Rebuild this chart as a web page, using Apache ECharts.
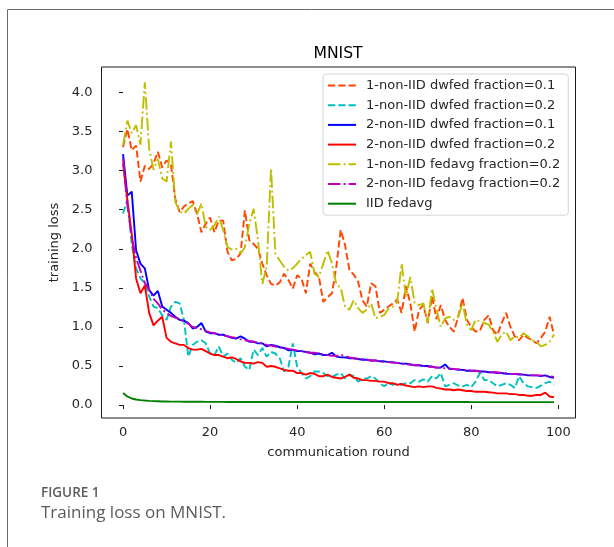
<!DOCTYPE html>
<html>
<head>
<meta charset="utf-8">
<script src="https://cdn.jsdelivr.net/npm/echarts@6/dist/echarts.min.js"></script>
<style>
html,body{margin:0;padding:0;background:#fff;}
#chart{width:614px;height:547px;}
</style>
</head>
<body>
<div id="chart"></div>
<script>
const rounds = [0,1,2,3,4,5,6,7,8,9,10,11,12,13,14,15,16,17,18,19,20,21,22,23,24,25,26,27,28,29,30,31,32,33,34,35,36,37,38,39,40,41,42,43,44,45,46,47,48,49,50,51,52,53,54,55,56,57,58,59,60,61,62,63,64,65,66,67,68,69,70,71,72,73,74,75,76,77,78,79,80,81,82,83,84,85,86,87,88,89,90,91,92,93,94,95,96,97,98,99];

const seriesNames = [
  '1-non-IID dwfed fraction=0.1',
  '1-non-IID dwfed fraction=0.2',
  '2-non-IID dwfed fraction=0.1',
  '2-non-IID dwfed fraction=0.2',
  '1-non-IID fedavg fraction=0.2',
  '2-non-IID fedavg fraction=0.2',
  'IID fedavg'
];

const nonIID1DwfedF01 = [3.30,3.53,3.26,3.32,2.86,3.06,3.02,3.09,3.24,3.04,3.13,3.08,2.64,2.47,2.54,2.58,2.61,2.45,2.21,2.32,2.40,2.21,2.36,2.36,1.96,1.85,1.87,1.94,2.49,2.11,2.06,2.00,1.81,1.66,1.55,1.53,1.57,1.68,1.60,1.49,1.66,1.62,1.43,1.81,1.70,1.64,1.32,1.38,1.43,1.77,2.24,2.05,1.73,1.67,1.58,1.34,1.26,1.56,1.52,1.18,1.22,1.26,1.30,1.35,1.18,1.52,1.30,0.94,1.22,1.28,1.05,1.39,1.10,1.28,1.09,1.00,0.94,1.13,1.37,1.09,1.00,0.94,0.95,1.09,1.15,0.96,0.90,1.05,1.18,1.00,0.88,0.83,0.90,0.86,0.83,0.79,0.86,0.94,1.13,0.90];

const nonIID1DwfedF02 = [2.45,2.63,2.05,1.75,1.62,1.56,1.39,1.26,1.24,1.15,1.09,1.26,1.32,1.30,1.09,0.62,0.77,0.81,0.83,0.79,0.66,0.64,0.75,0.62,0.66,0.58,0.54,0.60,0.49,0.45,0.71,0.64,0.73,0.62,0.68,0.66,0.60,0.43,0.49,0.79,0.49,0.41,0.34,0.37,0.43,0.43,0.41,0.37,0.36,0.39,0.41,0.34,0.39,0.37,0.30,0.34,0.34,0.37,0.34,0.28,0.24,0.28,0.26,0.28,0.26,0.28,0.28,0.32,0.30,0.33,0.30,0.37,0.34,0.41,0.24,0.26,0.28,0.25,0.24,0.26,0.23,0.30,0.41,0.32,0.32,0.28,0.24,0.26,0.28,0.26,0.22,0.37,0.28,0.24,0.23,0.22,0.25,0.28,0.30,0.26];

const nonIID2DwfedF01 = [3.21,2.68,2.73,1.98,1.81,1.75,1.47,1.40,1.46,1.26,1.22,1.18,1.13,1.09,1.08,1.05,0.98,1.00,1.05,0.94,0.92,0.92,0.90,0.90,0.88,0.86,0.85,0.88,0.85,0.81,0.81,0.79,0.79,0.75,0.77,0.76,0.74,0.73,0.70,0.71,0.69,0.69,0.68,0.67,0.65,0.66,0.64,0.64,0.67,0.62,0.61,0.61,0.60,0.60,0.59,0.58,0.58,0.57,0.57,0.56,0.56,0.55,0.55,0.54,0.53,0.53,0.52,0.51,0.51,0.50,0.50,0.49,0.48,0.48,0.52,0.46,0.46,0.45,0.45,0.44,0.44,0.44,0.43,0.43,0.42,0.42,0.41,0.41,0.40,0.40,0.40,0.39,0.39,0.38,0.38,0.38,0.37,0.38,0.36,0.35];

const nonIID2DwfedF02 = [3.09,2.62,2.19,1.62,1.43,1.53,1.18,1.02,1.08,1.13,0.86,0.81,0.79,0.77,0.77,0.73,0.71,0.71,0.72,0.69,0.66,0.64,0.64,0.62,0.60,0.61,0.59,0.56,0.54,0.54,0.53,0.55,0.54,0.49,0.50,0.49,0.47,0.45,0.44,0.44,0.41,0.41,0.39,0.41,0.40,0.37,0.37,0.39,0.36,0.35,0.34,0.36,0.39,0.35,0.34,0.32,0.32,0.31,0.31,0.30,0.30,0.28,0.28,0.26,0.27,0.25,0.24,0.23,0.24,0.23,0.24,0.24,0.22,0.21,0.20,0.20,0.19,0.20,0.19,0.18,0.18,0.17,0.17,0.17,0.165,0.16,0.15,0.15,0.15,0.14,0.14,0.13,0.13,0.12,0.12,0.13,0.13,0.16,0.11,0.10];

const nonIID1FedavgF02 = [3.33,3.64,3.48,3.58,3.33,4.13,3.28,3.01,3.15,2.90,2.86,3.37,2.60,2.48,2.45,2.51,2.56,2.44,2.58,2.28,2.24,2.30,2.41,2.24,2.02,1.99,2.00,1.94,2.02,2.32,2.51,2.11,1.55,1.77,3.03,1.94,1.85,1.77,1.72,1.75,1.81,1.87,1.92,1.96,1.68,1.64,1.81,1.98,1.81,1.55,1.50,1.26,1.22,1.34,1.24,1.18,1.22,1.30,1.11,1.13,1.15,1.24,1.26,1.32,1.81,1.39,1.64,1.30,1.28,1.30,1.05,1.49,1.23,1.00,1.11,1.13,1.09,1.13,1.30,1.03,0.96,1.09,1.07,1.05,1.03,0.94,0.81,0.90,0.94,0.83,0.88,0.86,0.92,0.88,0.83,0.81,0.75,0.77,0.81,0.90];

const nonIID2FedavgF02 = [3.15,2.55,2.15,1.88,1.72,1.56,1.48,1.36,1.30,1.22,1.18,1.14,1.12,1.10,1.07,1.04,1.00,0.98,0.97,0.95,0.93,0.92,0.90,0.89,0.88,0.87,0.86,0.84,0.83,0.82,0.81,0.80,0.79,0.77,0.76,0.75,0.74,0.73,0.72,0.71,0.70,0.69,0.68,0.67,0.67,0.66,0.65,0.64,0.63,0.63,0.64,0.63,0.61,0.60,0.59,0.59,0.58,0.57,0.57,0.56,0.55,0.55,0.54,0.54,0.53,0.52,0.52,0.51,0.51,0.50,0.49,0.49,0.48,0.48,0.47,0.47,0.46,0.46,0.45,0.45,0.44,0.44,0.43,0.43,0.42,0.42,0.42,0.41,0.41,0.40,0.40,0.40,0.39,0.39,0.38,0.38,0.38,0.37,0.37,0.36];

const iidFedavg = [0.155,0.110,0.085,0.072,0.064,0.058,0.054,0.051,0.049,0.047,0.046,0.045,0.044,0.044,0.043,0.043,0.042,0.042,0.042,0.041,0.041,0.041,0.041,0.041,0.040,0.040,0.040,0.040,0.040,0.040,0.040,0.040,0.040,0.040,0.040,0.040,0.040,0.040,0.040,0.040,0.040,0.040,0.040,0.040,0.040,0.040,0.040,0.040,0.040,0.040,0.040,0.039,0.039,0.039,0.039,0.039,0.039,0.039,0.039,0.039,0.039,0.039,0.039,0.039,0.039,0.039,0.039,0.039,0.039,0.039,0.039,0.039,0.039,0.039,0.039,0.039,0.039,0.039,0.039,0.039,0.038,0.038,0.038,0.038,0.038,0.038,0.038,0.038,0.038,0.038,0.038,0.038,0.038,0.038,0.038,0.038,0.038,0.038,0.038,0.038];

const xTicks = [0,20,40,60,80,100];
const yTicks = [0,0.5,1.0,1.5,2.0,2.5,3.0,3.5,4.0];

const allValues = [nonIID1DwfedF01, nonIID1DwfedF02, nonIID2DwfedF01, nonIID2DwfedF02, nonIID1FedavgF02, nonIID2FedavgF02, iidFedavg];
const colors = ['#FF4500','#00BFBF','#0000FF','#FF0000','#BFBF00','#BF00BF','#008000'];
const dashed = [7.2, 3.1];
const dashdot = [12.5, 3.1, 1.95, 3.1];
const types = [dashed, dashed, 'solid', 'solid', dashdot, dashdot, 'solid'];

const FONT = 'DejaVu Sans';
const TXT = '#262626';

const chart = echarts.init(document.getElementById('chart'), null, {renderer:'canvas'});

const series = allValues.map((vals, k) => ({
  name: seriesNames[k],
  type: 'line',
  data: rounds.map((r, i) => [r, vals[i]]),
  symbol: 'none',
  showSymbol: false,
  smooth: false,
  lineStyle: {color: colors[k], width: 1.9, type: types[k]},
  itemStyle: {color: colors[k]},
  emphasis: {disabled: true}
}));

chart.setOption({
  animation: false,
  backgroundColor: '#ffffff',
  grid: {left: 101.5, top: 67, width: 474, height: 351, show: true, borderColor: '#1a1a1a', borderWidth: 1, backgroundColor: 'transparent'},
  xAxis: {
    type: 'value', min: -4.95, max: 103.95,
    axisLine: {show: false},
    splitLine: {show: false},
    axisTick: {show: true, customValues: xTicks, length: 4, lineStyle: {color: '#1a1a1a', width: 1}},
    axisLabel: {customValues: xTicks, fontFamily: FONT, fontSize: 13, color: TXT, margin: 8},
    name: 'communication round', nameLocation: 'middle', nameGap: 28.5,
    nameTextStyle: {fontFamily: FONT, fontSize: 13, color: TXT}
  },
  yAxis: {
    type: 'value', min: -0.165, max: 4.325,
    axisLine: {show: false},
    splitLine: {show: false},
    axisTick: {show: true, customValues: yTicks, length: 4, lineStyle: {color: '#1a1a1a', width: 1}},
    axisLabel: {customValues: yTicks, fontFamily: FONT, fontSize: 13, color: TXT, margin: 9, formatter: v => Number(v).toFixed(1)},
    name: 'training loss', nameLocation: 'middle', nameGap: 28, nameRotate: 90,
    nameTextStyle: {fontFamily: FONT, fontSize: 13, color: TXT}
  },
  legend: {
    data: seriesNames,
    orient: 'vertical',
    left: 323, top: 74,
    itemWidth: 28, itemHeight: 13, itemGap: 6.7,
    padding: [5, 8, 5, 4],
    backgroundColor: '#ffffff',
    borderColor: '#d6d6d6', borderWidth: 1, borderRadius: 3,
    itemStyle: {color: 'rgba(0,0,0,0)', borderWidth: 0, opacity: 0},
    textStyle: {fontFamily: FONT, fontSize: 13, color: TXT, padding: [0,0,0,5]},
    selectedMode: false
  },
  graphic: [
    {type: 'rect', silent: true, z: -10, shape: {x: 7.5, y: 9.5, width: 700, height: 600}, style: {fill: 'none', stroke: '#6b6b6b', lineWidth: 1}},
    {type: 'text', x: 338, y: 54, style: {text: 'MNIST', font: '15.6px "DejaVu Sans"', fill: '#000', textAlign: 'center', textVerticalAlign: 'middle'}},
    {type: 'text', x: 41, y: 493, style: {text: 'FIGURE 1', font: '600 13.5px "Open Sans"', fill: '#5c5c5c', textAlign: 'left', textVerticalAlign: 'middle'}},
    {type: 'text', x: 41, y: 513, style: {text: 'Training loss on MNIST.', font: '17px "Open Sans"', fill: '#5c5c5c', textAlign: 'left', textVerticalAlign: 'middle'}}
  ],
  series: series
});
</script>
</body>
</html>
